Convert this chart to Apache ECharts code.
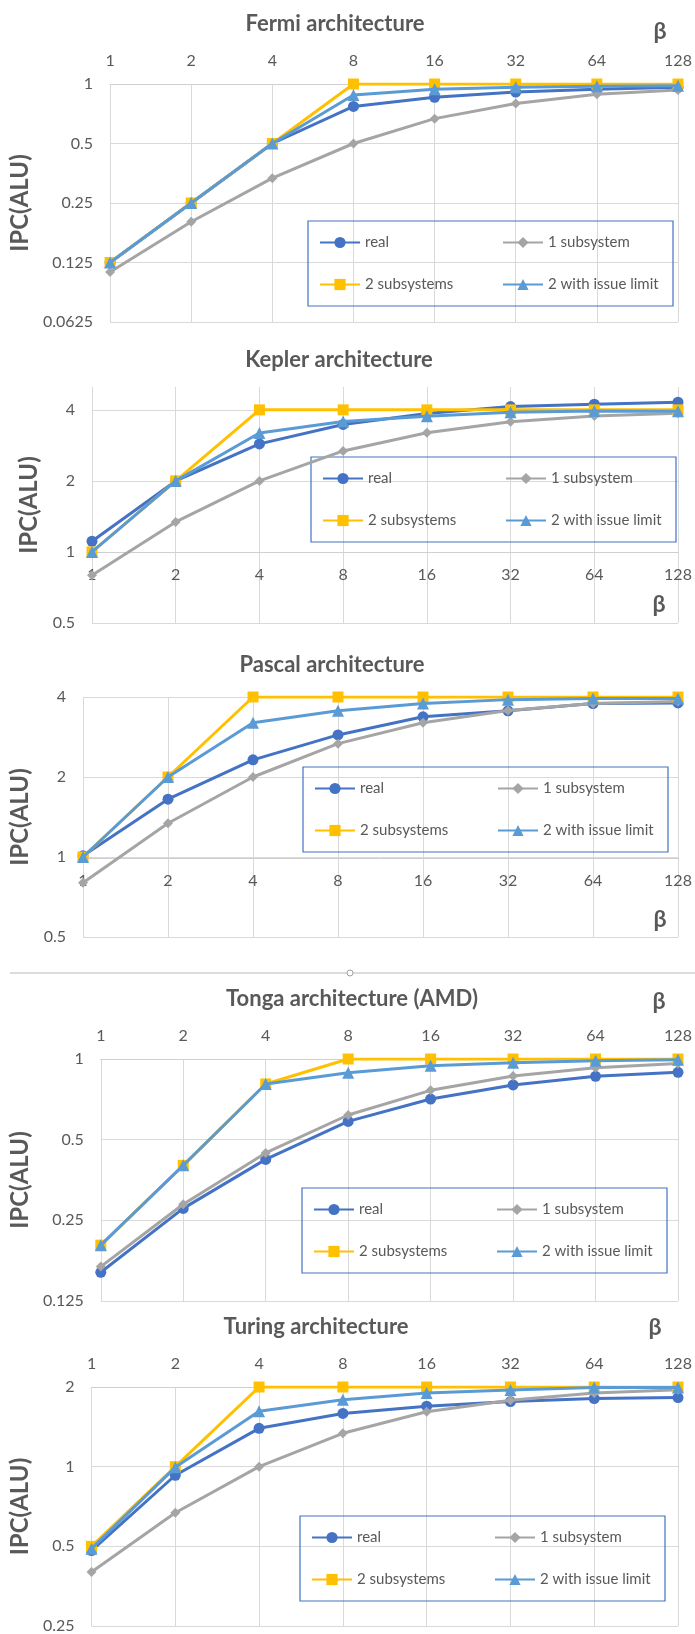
<!DOCTYPE html>
<html lang="en">
<head>
    <meta charset="UTF-8">
    <title>IPC(ALU) vs beta</title>
    <script src="https://cdn.jsdelivr.net/npm/echarts@6/dist/echarts.min.js"></script>
    <style>
        html, body { margin: 0; padding: 0; background: #fff; }
        #charts { width: 695px; height: 1634px; }
    </style>
</head>
<body>
<div id="charts"></div>
<script>
    // x categories (beta)
    var categories = ['1', '2', '4', '8', '16', '32', '64', '128'];
    var seriesNames = ['real', '1 subsystem', '2 subsystems', '2 with issue limit'];

    // Fermi
    var fermiReal  = [0.125, 0.25, 0.5, 0.77, 0.857, 0.911, 0.94, 0.962];
    var fermiOne   = [0.112, 0.201, 0.334, 0.5, 0.668, 0.796, 0.887, 0.933];
    var fermiTwo   = [0.125, 0.25, 0.5, 1, 1, 1, 1, 1];
    var fermiIssue = [0.125, 0.25, 0.5, 0.88, 0.94, 0.962, 0.973, 0.98];

    // Kepler
    var keplerReal  = [1.11, 2, 2.87, 3.47, 3.86, 4.13, 4.23, 4.31];
    var keplerOne   = [0.797, 1.34, 2, 2.68, 3.2, 3.56, 3.77, 3.87];
    var keplerTwo   = [1, 2, 4, 4, 4, 4, 4, 4];
    var keplerIssue = [1, 2, 3.19, 3.57, 3.76, 3.91, 3.96, 3.95];

    // Pascal
    var pascalReal  = [1.01, 1.65, 2.32, 2.88, 3.37, 3.55, 3.78, 3.8];
    var pascalOne   = [0.8, 1.34, 2, 2.67, 3.2, 3.56, 3.78, 3.85];
    var pascalTwo   = [1, 2, 4, 4, 4, 4, 4, 4];
    var pascalIssue = [1, 2, 3.2, 3.55, 3.78, 3.91, 3.95, 3.95];

    // Tonga (AMD)
    var tongaReal  = [0.16, 0.277, 0.422, 0.585, 0.709, 0.8, 0.862, 0.892];
    var tongaOne   = [0.168, 0.287, 0.446, 0.618, 0.764, 0.864, 0.928, 0.963];
    var tongaTwo   = [0.202, 0.401, 0.807, 1, 1, 1, 1, 1];
    var tongaIssue = [0.202, 0.401, 0.807, 0.889, 0.944, 0.969, 0.986, 0.994];

    // Turing
    var turingReal  = [0.482, 0.928, 1.396, 1.589, 1.692, 1.762, 1.808, 1.824];
    var turingOne   = [0.4, 0.67, 1, 1.337, 1.612, 1.782, 1.899, 1.954];
    var turingTwo   = [0.5, 1, 2, 2, 2, 2, 2, 2];
    var turingIssue = [0.49, 0.994, 1.62, 1.79, 1.9, 1.95, 1.99, 1.99];

    var colors = ['#4472C4', '#A5A5A5', '#FFC000', '#5B9BD5'];
    var symbols = ['circle', 'diamond', 'rect', 'triangle'];
    var symbolSizes = [11, 10, 11, 12];
    var fontFamily = 'Lato, "Open Sans", sans-serif';
    var textColor = '#595959';
    var gridColor = '#d9d9d9';

    var panels = [
        {title: 'Fermi architecture', data: [fermiReal, fermiOne, fermiTwo, fermiIssue],
            min: 0.0625, max: 1, left: 91, top: 84, height: 238, xPos: 'top', offset: 0,
            titleX: 335, titleY: 24, betaX: 660, betaY: 32, nameGap: 49, legendX: 308, legendY: 221},
        {title: 'Kepler architecture', data: [keplerReal, keplerOne, keplerTwo, keplerIssue],
            min: 0.5, max: 5, left: 92, top: 387, height: 236, xPos: 'bottom', offset: -71,
            titleX: 339, titleY: 360, betaX: 659, betaY: 605, nameGap: 39, legendX: 311, legendY: 457},
        {title: 'Pascal architecture', data: [pascalReal, pascalOne, pascalTwo, pascalIssue],
            min: 0.5, max: 4, left: 83, top: 697, height: 240, xPos: 'bottom', offset: -79,
            titleX: 332, titleY: 665, betaX: 660, betaY: 920, nameGap: 40, legendX: 303, legendY: 767},
        {title: 'Tonga architecture (AMD)', data: [tongaReal, tongaOne, tongaTwo, tongaIssue],
            min: 0.125, max: 1, left: 83, top: 1059, height: 242, xPos: 'top', offset: 0,
            titleX: 352, titleY: 999, betaX: 659, betaY: 1002, nameGap: 42, legendX: 302, legendY: 1188},
        {title: 'Turing architecture', data: [turingReal, turingOne, turingTwo, turingIssue],
            min: 0.25, max: 2, left: 81, top: 1387, height: 241, xPos: 'top', offset: 0,
            titleX: 316, titleY: 1327, betaX: 655, betaY: 1328, nameGap: 41, legendX: 300, legendY: 1516}
    ];

    function logLabel(v) {
        var e = Math.log(v) / Math.LN2;
        if (Math.abs(e - Math.round(e)) > 1e-6) {
            return '';
        }
        return String(+v.toFixed(4));
    }

    var option = {
        animation: false,
        backgroundColor: '#fff',
        textStyle: {fontFamily: fontFamily},
        grid: [], xAxis: [], yAxis: [], series: [], legend: [], graphic: []
    };

    function makeLegend(names, left, top) {
        return {
            data: names, left: left, top: top, orient: 'vertical',
            itemWidth: 40, itemHeight: 14, itemGap: 27, padding: 0,
            textStyle: {color: textColor, fontSize: 15, fontFamily: fontFamily},
            selectedMode: false
        };
    }

    panels.forEach(function (p, i) {
        option.grid.push({left: p.left, right: 17, top: p.top, height: p.height});
        option.xAxis.push({
            type: 'category', gridIndex: i, data: categories, boundaryGap: false,
            position: p.xPos, offset: p.offset,
            axisLine: {show: true, lineStyle: {color: '#cfcfcf', width: 1}},
            axisTick: {show: false},
            axisLabel: {interval: 0, color: textColor, fontSize: 16, margin: 15, fontFamily: fontFamily},
            splitLine: {show: true, interval: 0, lineStyle: {color: gridColor, width: 1}}
        });
        option.yAxis.push({
            type: 'log', logBase: 2, gridIndex: i, min: p.min, max: p.max,
            name: 'IPC(ALU)', nameLocation: 'middle', nameGap: p.nameGap,
            nameTextStyle: {color: textColor, fontSize: 24, fontWeight: 'bold', fontFamily: fontFamily},
            axisLine: {show: false}, axisTick: {show: false},
            axisLabel: {color: textColor, fontSize: 16, margin: 17, formatter: logLabel, fontFamily: fontFamily},
            splitLine: {show: true, showMaxLine: p.max === 1 || p.max === 4 || p.max === 2,
                lineStyle: {color: gridColor, width: 1}}
        });
        p.data.forEach(function (vals, k) {
            option.series.push({
                name: seriesNames[k], type: 'line', xAxisIndex: i, yAxisIndex: i,
                data: vals, symbol: symbols[k], symbolSize: symbolSizes[k],
                itemStyle: {color: colors[k]},
                lineStyle: {color: colors[k], width: 3},
                z: 2 + k
            });
        });
        // two legend columns inside a framed box
        option.legend.push(makeLegend([seriesNames[0], seriesNames[2]], p.legendX + 11, p.legendY + 14));
        option.legend.push(makeLegend([seriesNames[1], seriesNames[3]], p.legendX + 194, p.legendY + 14));
        option.graphic.push({
            type: 'rect', shape: {x: p.legendX, y: p.legendY, width: 365, height: 85},
            style: {fill: 'rgba(255,255,255,0)', stroke: '#4472C4', lineWidth: 1.2}, z: 1
        });
        option.graphic.push({
            type: 'text', x: p.titleX, y: p.titleY,
            style: {text: p.title, textAlign: 'center', textVerticalAlign: 'middle',
                fill: textColor, font: 'bold 22px ' + fontFamily}
        });
        option.graphic.push({
            type: 'text', x: p.betaX, y: p.betaY,
            style: {text: 'β', textAlign: 'center', textVerticalAlign: 'middle',
                fill: textColor, font: 'bold 23px ' + fontFamily}
        });
    });

    // divider between the two chart groups
    option.graphic.push({
        type: 'line', shape: {x1: 10, y1: 973, x2: 695, y2: 973},
        style: {stroke: '#d0d0d0', lineWidth: 1.5}
    });
    option.graphic.push({
        type: 'circle', shape: {cx: 350, cy: 973, r: 3},
        style: {fill: '#fff', stroke: '#a0a0a0', lineWidth: 1}
    });

    var myChart = echarts.init(document.getElementById('charts'));
    myChart.setOption(option);
</script>
</body>
</html>
